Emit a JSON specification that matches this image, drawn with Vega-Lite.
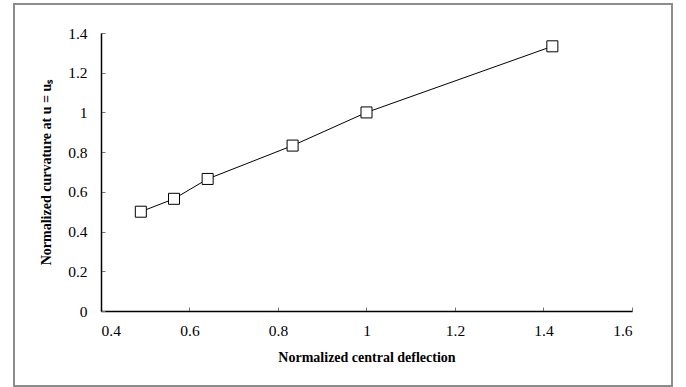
{
  "$schema": "https://vega.github.io/schema/vega-lite/v6.json",
  "width": 531,
  "height": 278,
  "autosize": {"type": "none"},
  "padding": {"left": 101, "top": 33, "right": 54, "bottom": 76},
  "background": "white",
  "config": {
    "view": {"stroke": null},
    "font": "Liberation Serif"
  },
  "data": {
    "values": [
      {"deflection": 0.49, "curvature": 0.5},
      {"deflection": 0.565, "curvature": 0.565},
      {"deflection": 0.641, "curvature": 0.665},
      {"deflection": 0.833, "curvature": 0.833},
      {"deflection": 1.0, "curvature": 1.0},
      {"deflection": 1.42, "curvature": 1.333}
    ]
  },
  "encoding": {
    "x": {
      "field": "deflection",
      "type": "quantitative",
      "scale": {"domain": [0.4, 1.6], "nice": false, "zero": false},
      "axis": {
        "title": "Normalized central deflection",
        "values": [0.4, 0.6, 0.8, 1.0, 1.2, 1.4, 1.6],
        "format": "~g",
        "grid": false,
        "domainColor": "black",
        "domainWidth": 1.5,
        "tickColor": "#777",
        "tickSize": -4,
        "labelPadding": 16,
        "labelFont": "Liberation Serif",
        "labelFontSize": 15.5,
        "labelColor": "black",
        "titleFont": "Liberation Serif",
        "titleFontSize": 14,
        "titleFontWeight": "bold",
        "titleColor": "black",
        "titlePadding": 12
      }
    },
    "y": {
      "field": "curvature",
      "type": "quantitative",
      "scale": {"domain": [0, 1.4], "nice": false, "zero": false},
      "axis": {
        "title": "Normalized curvature at u = uₛ",
        "values": [0, 0.2, 0.4, 0.6, 0.8, 1.0, 1.2, 1.4],
        "format": "~g",
        "grid": false,
        "domainColor": "black",
        "domainWidth": 1.5,
        "tickColor": "#777",
        "tickSize": -4,
        "labelPadding": 18,
        "labelFont": "Liberation Serif",
        "labelFontSize": 15.5,
        "labelColor": "black",
        "titleFont": "Liberation Serif",
        "titleFontSize": 14,
        "titleFontWeight": "bold",
        "titleColor": "black",
        "titlePadding": 14
      }
    }
  },
  "layer": [
    {
      "mark": {"type": "rect", "fill": null, "stroke": "#8c8c8c", "strokeWidth": 1.5, "clip": false},
      "encoding": {
        "x": {"datum": 0.2034},
        "x2": {"datum": 1.6904},
        "y": {"datum": -0.3777},
        "y2": {"datum": 1.546}
      }
    },
    {
      "mark": {"type": "line", "color": "black", "strokeWidth": 1}
    },
    {
      "mark": {"type": "point", "shape": "square", "size": 121, "filled": true, "fill": "white", "stroke": "black", "strokeWidth": 1, "opacity": 1}
    }
  ]
}
